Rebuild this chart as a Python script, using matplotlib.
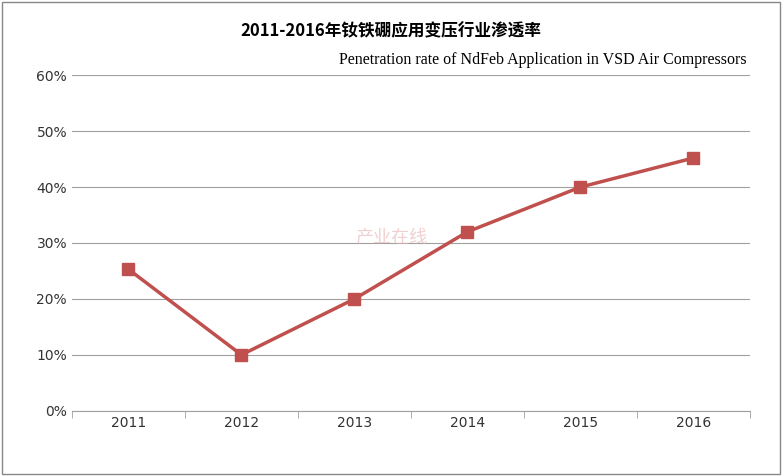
import matplotlib.pyplot as plt
from matplotlib.ticker import FuncFormatter

years = ['2011', '2012', '2013', '2014', '2015', '2016']
rates = [25.3, 10.0, 20.0, 32.0, 40.0, 45.2]
title_cn = '2011-2016年钕铁硼应用变压行业渗透率'
title_en = 'Penetration rate of NdFeb Application in VSD Air Compressors'

fig = plt.figure(figsize=(7.82, 4.76), dpi=100)
ax = fig.add_axes([0.092, 0.137, 0.867, 0.705])

x = range(len(years))
ax.plot(x, rates, color='#C0504D', linewidth=2.5, marker='s', markersize=9,
        markerfacecolor='#C0504D', markeredgecolor='#C0504D')

ax.set_xlim(-0.5, len(years) - 0.5)
ax.set_ylim(0, 60)
ax.set_yticks(range(0, 61, 10))
ax.yaxis.set_major_formatter(FuncFormatter(lambda v, p: '%d%%' % v))
ax.set_xticks(list(x))
ax.set_xticklabels(years)
ax.grid(axis='y', color='#A0A0A0', linewidth=0.8)
ax.set_axisbelow(True)
for s in ['top', 'right', 'left']:
    ax.spines[s].set_visible(False)
ax.spines['bottom'].set_color('#A0A0A0')
ax.tick_params(axis='y', length=0, labelsize=10, colors='#333333')
ax.tick_params(axis='x', length=4, color='#A0A0A0', labelsize=10, colors='#333333')
ax.set_xticks([i - 0.5 for i in range(len(years) + 1)], minor=True)
ax.tick_params(axis='x', which='minor', length=5, color='#A0A0A0')
ax.tick_params(axis='x', which='major', length=0)

fig.text(0.5, 0.935, title_cn, ha='center', va='center', fontsize=12, fontweight='bold',
         family=['Noto Sans CJK SC', 'DejaVu Sans'])
fig.text(0.955, 0.875, title_en, ha='right', va='center', fontsize=11.5,
         family='Liberation Serif')
fig.text(0.5, 0.5, '产业在线', ha='center', va='center', fontsize=13, color='#E8B0B0',
         alpha=0.6, family=['Noto Sans CJK SC', 'DejaVu Sans'])

fig.patches.append(plt.Rectangle((0.003, 0.005), 0.994, 0.99, transform=fig.transFigure,
                                 fill=False, edgecolor='#888888', linewidth=1))

fig.savefig('out.png', dpi=100)
